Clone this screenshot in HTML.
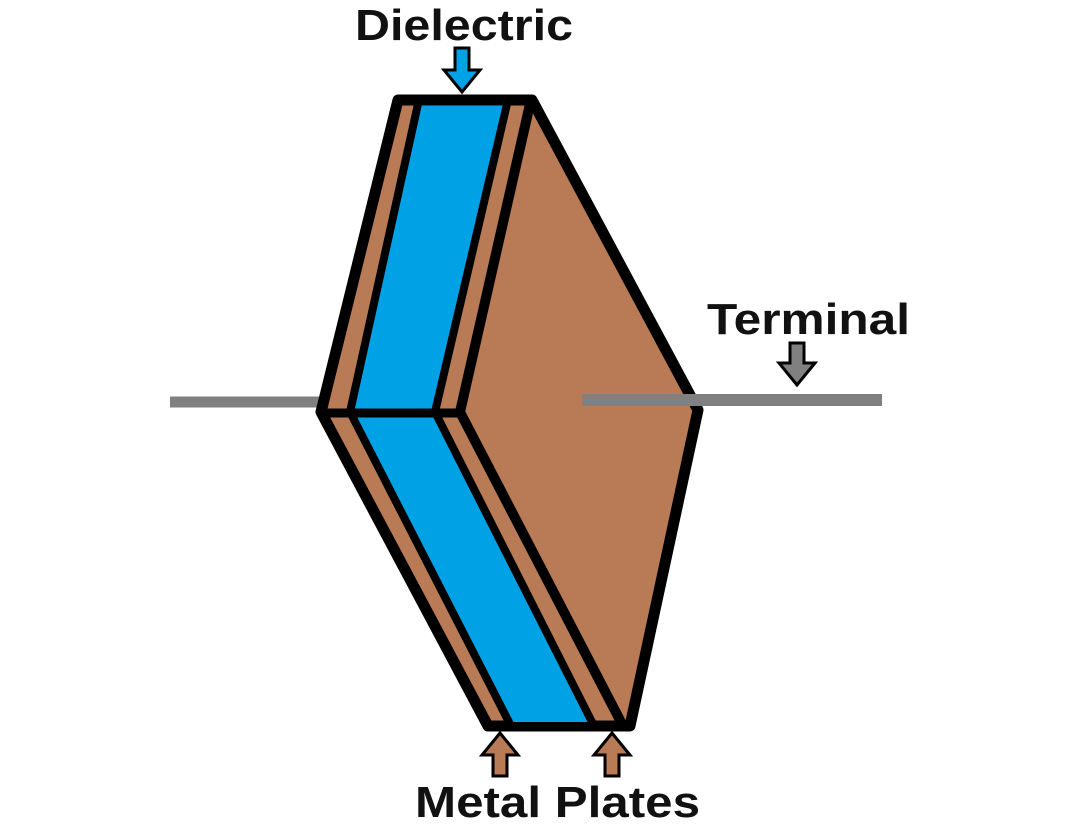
<!DOCTYPE html>
<html><head><style>body{margin:0;background:#fff}svg{display:block}</style></head>
<body>
<svg width="1080" height="839" viewBox="0 0 1080 839" xmlns="http://www.w3.org/2000/svg">
<rect width="1080" height="839" fill="#fff"/>
<line x1="170" y1="402" x2="322" y2="402" stroke="#808080" stroke-width="11"/>
<polygon points="398,100 532,100 698,410 630,726 488,726 321,412" fill="#b87b55" stroke="#000" stroke-width="11" stroke-linejoin="round"/>
<polygon points="420,106 505,106 433,412 592,722 512,722 352,412" fill="#00a2e5"/>
<polyline points="418,104 350,412 510,724" fill="none" stroke="#000" stroke-width="8"/>
<polyline points="507,104 435,412 593,724" fill="none" stroke="#000" stroke-width="8"/>
<polyline points="530,104 460,412 622,724" fill="none" stroke="#000" stroke-width="10"/>
<line x1="321" y1="413" x2="462" y2="413" stroke="#000" stroke-width="9"/>
<line x1="582" y1="400" x2="882" y2="400" stroke="#808080" stroke-width="12"/>
<g font-family="Liberation Sans, sans-serif" font-weight="bold" fill="#111">
<text x="355" y="40" font-size="44" textLength="218" lengthAdjust="spacingAndGlyphs">Dielectric</text>
<text x="707" y="334" font-size="44" textLength="203" lengthAdjust="spacingAndGlyphs">Terminal</text>
<text x="415" y="817" font-size="44" textLength="285" lengthAdjust="spacingAndGlyphs">Metal Plates</text>
</g>
<polygon points="455,48 469,48 469,70 480,70 462,92 444,70 455,70" fill="#00a2e5" stroke="#000" stroke-width="3"/>
<polygon points="790,343 804,343 804,363 815,363 797,385 779,363 790,363" fill="#808080" stroke="#000" stroke-width="3"/>
<polygon points="493,776 507,776 507,755 518,755 500,733 482,755 493,755" fill="#b87b55" stroke="#000" stroke-width="3"/>
<polygon points="605,776 619,776 619,755 630,755 612,733 594,755 605,755" fill="#b87b55" stroke="#000" stroke-width="3"/>
</svg>
</body></html>
